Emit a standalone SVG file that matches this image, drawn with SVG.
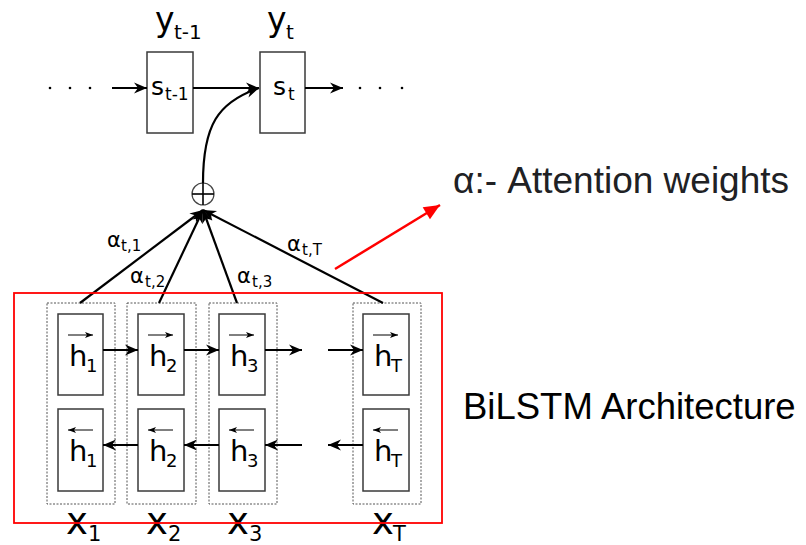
<svg xmlns="http://www.w3.org/2000/svg" width="806" height="545" viewBox="0 0 806 545">
<defs>
<marker id="ah" markerUnits="userSpaceOnUse" markerWidth="16" markerHeight="12" viewBox="-14 -6 16 12" refX="0" refY="0" orient="auto">
<path d="M0,0 L-13,-5.5 L-9,0 L-13,5.5 Z" fill="#000"/>
</marker>
<marker id="sm" markerUnits="userSpaceOnUse" markerWidth="10" markerHeight="8" viewBox="-9 -4 10 8" refX="0" refY="0" orient="auto">
<path d="M0,0 L-8,-3 L-6,0 L-8,3 Z" fill="#000"/>
</marker>
<marker id="ra" markerUnits="userSpaceOnUse" markerWidth="18" markerHeight="16" viewBox="-17 -8 18 16" refX="0" refY="0" orient="auto">
<path d="M0,0 L-16,-7 L-16,7 Z" fill="#ff0000"/>
</marker>
</defs>
<style>
.box{fill:#fff;stroke:#3a3a3a;stroke-width:1.5}
.dot{fill:none;stroke:#555;stroke-width:1;stroke-dasharray:2,1.5}
.ln{fill:none;stroke:#000;stroke-width:2.2}
.t{font-family:"DejaVu Sans",sans-serif;fill:#000}
.h{font-size:29px}
.hs{font-size:18px}
.a{font-size:21px}
.as{font-size:15px}
.x{font-size:37px}
.xs{font-size:21px}
.sm{fill:none;stroke:#000;stroke-width:1}
</style>

<g id="ylabels">
<text class="t" x="155" y="31" font-size="33">y</text><text class="t" x="174" y="39" font-size="20">t-1</text>
<text class="t" x="267" y="31" font-size="33">y</text><text class="t" x="286" y="39" font-size="20">t</text>
</g>

<g id="dots-left" fill="#000">
<circle cx="50" cy="88" r="1.3"/><circle cx="70" cy="88" r="1.3"/><circle cx="90" cy="88" r="1.3"/>
</g>
<g id="dots-right" fill="#000">
<circle cx="360" cy="88" r="1.3"/><circle cx="380" cy="88" r="1.3"/><circle cx="402" cy="88" r="1.3"/>
</g>

<g id="s_t-1">
<rect class="box" x="147" y="52" width="46" height="81"/>
<text class="t" x="151" y="95" font-size="25">s</text><text class="t" x="165" y="100" font-size="17">t-1</text>
</g>
<g id="s_t">
<rect class="box" x="260" y="52" width="45" height="81"/>
<text class="t" x="273" y="95" font-size="25">s</text><text class="t" x="288" y="100" font-size="17">t</text>
</g>

<g id="plus">
<circle cx="203" cy="194" r="11" fill="#fff" stroke="#444" stroke-width="1.2"/>
<line x1="192" y1="194" x2="214" y2="194" stroke="#000" stroke-width="1.6"/>
<line x1="203" y1="183" x2="203" y2="205" stroke="#000" stroke-width="1.6"/>
</g>

<g id="columns">
<g id="col1">
<rect class="dot" x="47" y="303" width="68" height="201"/>
<rect class="box" x="58" y="314" width="45" height="81"/>
<rect class="box" x="58" y="409" width="45" height="82"/>
<line class="sm" x1="68" y1="335" x2="93" y2="335" marker-end="url(#sm)"/>
<text class="t h" x="69" y="366">h</text><text class="t hs" x="86" y="372">1</text>
<line class="sm" x1="93" y1="430" x2="68" y2="430" marker-end="url(#sm)"/>
<text class="t h" x="69" y="461">h</text><text class="t hs" x="86" y="467">1</text>
</g>
<g id="col2">
<rect class="dot" x="127" y="303" width="69" height="201"/>
<rect class="box" x="138" y="314" width="46" height="81"/>
<rect class="box" x="138" y="409" width="46" height="82"/>
<line class="sm" x1="148" y1="335" x2="173" y2="335" marker-end="url(#sm)"/>
<text class="t h" x="149" y="366">h</text><text class="t hs" x="166" y="372">2</text>
<line class="sm" x1="173" y1="430" x2="148" y2="430" marker-end="url(#sm)"/>
<text class="t h" x="149" y="461">h</text><text class="t hs" x="166" y="467">2</text>
</g>
<g id="col3">
<rect class="dot" x="209" y="303" width="68" height="201"/>
<rect class="box" x="219" y="314" width="46" height="81"/>
<rect class="box" x="219" y="409" width="46" height="82"/>
<line class="sm" x1="229" y1="335" x2="254" y2="335" marker-end="url(#sm)"/>
<text class="t h" x="230" y="366">h</text><text class="t hs" x="247" y="372">3</text>
<line class="sm" x1="254" y1="430" x2="229" y2="430" marker-end="url(#sm)"/>
<text class="t h" x="230" y="461">h</text><text class="t hs" x="247" y="467">3</text>
</g>
<g id="colT">
<rect class="dot" x="353" y="303" width="68" height="201"/>
<rect class="box" x="363" y="314" width="46" height="81"/>
<rect class="box" x="363" y="409" width="46" height="82"/>
<line class="sm" x1="373" y1="335" x2="398" y2="335" marker-end="url(#sm)"/>
<text class="t h" x="374" y="366">h</text><text class="t hs" x="391" y="372">T</text>
<line class="sm" x1="398" y1="430" x2="373" y2="430" marker-end="url(#sm)"/>
<text class="t h" x="374" y="461">h</text><text class="t hs" x="391" y="467">T</text>
</g>
</g>

<g id="xlabels">
<text class="t x" x="66" y="534">x</text><text class="t xs" x="88" y="541">1</text>
<text class="t x" x="146" y="534">x</text><text class="t xs" x="168" y="541">2</text>
<text class="t x" x="227" y="534">x</text><text class="t xs" x="249" y="541">3</text>
<text class="t x" x="372" y="534">x</text><text class="t xs" x="393" y="541">T</text>
</g>

<g id="connectors">
<line class="ln" x1="112" y1="88" x2="147" y2="88" marker-end="url(#ah)"/>
<line class="ln" x1="193" y1="88" x2="259" y2="88" marker-end="url(#ah)"/>
<line class="ln" x1="305" y1="88" x2="343" y2="88" marker-end="url(#ah)"/>
<path class="ln" d="M203,183 C203,125 218,102 259,88" marker-end="url(#ah)"/>
<line class="ln" x1="80" y1="303" x2="203" y2="210" marker-end="url(#ah)"/>
<line class="ln" x1="159" y1="303" x2="203" y2="210" marker-end="url(#ah)"/>
<line class="ln" x1="237" y1="303" x2="203" y2="210" marker-end="url(#ah)"/>
<line class="ln" x1="383" y1="303" x2="203" y2="210" marker-end="url(#ah)"/>
<line class="ln" x1="103" y1="350" x2="138" y2="350" marker-end="url(#ah)"/>
<line class="ln" x1="184" y1="350" x2="219" y2="350" marker-end="url(#ah)"/>
<line class="ln" x1="265" y1="350" x2="302" y2="350" marker-end="url(#ah)"/>
<line class="ln" x1="328" y1="350" x2="363" y2="350" marker-end="url(#ah)"/>
<line class="ln" x1="138" y1="445" x2="103" y2="445" marker-end="url(#ah)"/>
<line class="ln" x1="219" y1="445" x2="184" y2="445" marker-end="url(#ah)"/>
<line class="ln" x1="302" y1="445" x2="265" y2="445" marker-end="url(#ah)"/>
<line class="ln" x1="363" y1="445" x2="328" y2="445" marker-end="url(#ah)"/>
<line x1="335" y1="269" x2="440" y2="205" stroke="#ff0000" stroke-width="2.5" marker-end="url(#ra)"/>
</g>

<g id="alabels">
<text class="t a" x="107" y="247">α</text><text class="t as" x="121" y="251">t,1</text>
<text class="t a" x="130" y="283">α</text><text class="t as" x="145" y="287">t,2</text>
<text class="t a" x="237" y="283">α</text><text class="t as" x="252" y="287">t,3</text>
<text class="t a" x="287" y="251">α</text><text class="t as" x="302" y="255">t,T</text>
</g>

<g id="bilstm-frame">
<rect x="14" y="293" width="428" height="230" fill="none" stroke="#ff0000" stroke-width="1.8"/>
</g>

<g id="captions">
<text x="453" y="193" font-family="Liberation Sans, Arial, sans-serif" font-size="37" fill="#202124">α:- Attention weights</text>
<text x="463" y="419" font-family="Liberation Sans, Arial, sans-serif" font-size="36.5" fill="#000">BiLSTM Architecture</text>
</g>
</svg>
